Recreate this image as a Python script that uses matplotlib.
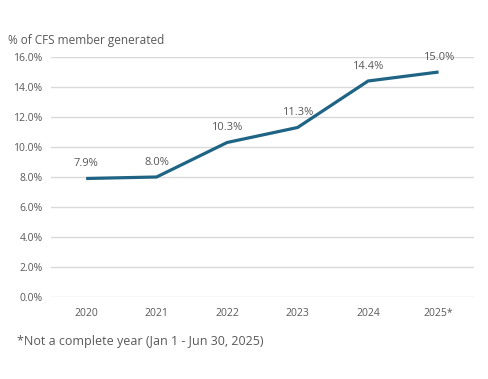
import numpy as np
import matplotlib.pyplot as plt

years = ['2020', '2021', '2022', '2023', '2024', '2025*']
pct = [7.9, 8.0, 10.3, 11.3, 14.4, 15.0]
yticks = [0, 2, 4, 6, 8, 10, 12, 14, 16]

plt.rcParams['font.family'] = ['Open Sans', 'DejaVu Sans']
grey = '#595959'

fig = plt.figure(figsize=(4.89, 3.79), dpi=100)
ax = fig.add_axes([0.104, 0.2164, 0.865, 0.6332])

x = np.arange(len(years))
ax.plot(x, pct, color='#1F6484', lw=2.3, solid_capstyle='butt', zorder=3)
for xi, v in zip(x, pct):
    ax.annotate('{:.1f}%'.format(v), (xi, v), xytext=(0, 6.5), textcoords='offset points',
                ha='center', va='bottom', fontsize=8, color=grey)

ax.set_xlim(-0.5, len(years) - 0.5)
ax.set_ylim(0, 16)
ax.set_xticks(x)
ax.set_xticklabels(years)
ax.set_yticks(yticks)
ax.set_yticklabels(['{:.1f}%'.format(t) for t in yticks])
ax.tick_params(length=0, labelsize=7.5, labelcolor=grey)
ax.tick_params(axis='x', pad=8)
ax.tick_params(axis='y', pad=6)
ax.grid(axis='y', color='#D9D9D9', lw=1)
ax.set_axisbelow(True)
for s in ax.spines.values():
    s.set_visible(False)

fig.text(0.016, 0.892, '% of CFS member generated', fontsize=8.5, color=grey, va='center')
fig.text(0.035, 0.098, '*Not a complete year (Jan 1 - Jun 30, 2025)', fontsize=9, color=grey, va='center')

plt.savefig('out.png', dpi=100)
